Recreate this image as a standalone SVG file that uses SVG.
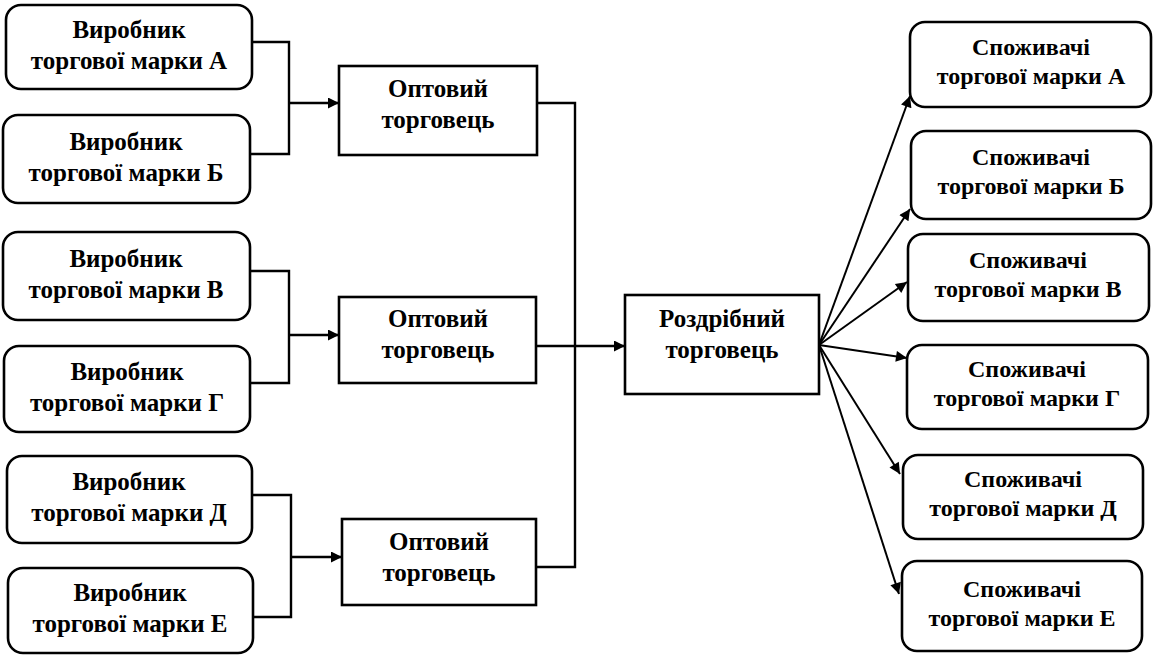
<svg xmlns="http://www.w3.org/2000/svg" width="1155" height="657" viewBox="0 0 1155 657">
<style>
.box{fill:#fff;stroke:#000;stroke-width:2.6}
.t{font-family:"Liberation Serif","Times New Roman",serif;font-weight:bold;font-size:25px;fill:#000;text-anchor:middle}
.r{font-size:24px}
.c{fill:none;stroke:#000;stroke-width:2.4}
.a{fill:none;stroke:#000;stroke-width:2;marker-end:url(#ah)}
.ah{fill:none;stroke:#000;stroke-width:2.4;marker-end:url(#ah)}
</style>
<defs>
<marker id="ah" viewBox="0 0 10 10" refX="10" refY="5" markerWidth="15" markerHeight="11" markerUnits="userSpaceOnUse" orient="auto">
<path d="M0,0 L10,5 L0,10 z" fill="#000"/>
</marker>
</defs>
<rect width="1155" height="657" fill="#fff"/>
<g id="connectors">
<polyline class="c" points="252,42 289,42 289,154 250,154"/>
<line class="ah" x1="289" y1="103" x2="339" y2="103"/>
<polyline class="c" points="250,271 289,271 289,383 250,383"/>
<line class="ah" x1="289" y1="335" x2="339" y2="335"/>
<polyline class="c" points="252,495 291,495 291,617 253,617"/>
<line class="ah" x1="291" y1="557" x2="342" y2="557"/>
<polyline class="c" points="537,103 575,103 575,567 536,567"/>
<line class="ah" x1="536" y1="346" x2="625" y2="346"/>
<line class="a" x1="819" y1="345" x2="910" y2="96"/>
<line class="a" x1="819" y1="345" x2="910" y2="209"/>
<line class="a" x1="819" y1="345" x2="907" y2="282"/>
<line class="a" x1="819" y1="345" x2="907" y2="358"/>
<line class="a" x1="819" y1="345" x2="900" y2="474"/>
<line class="a" x1="819" y1="345" x2="899" y2="594"/>
</g>
<g id="p-a"><rect class="box" x="6" y="5" width="246" height="84" rx="15"/><text class="t" x="129" y="38">Виробник</text><text class="t" x="129" y="69">торгової марки А</text></g>
<g id="p-b"><rect class="box" x="3" y="115" width="247" height="88" rx="15"/><text class="t" x="126" y="150">Виробник</text><text class="t" x="126" y="181">торгової марки Б</text></g>
<g id="p-v"><rect class="box" x="3" y="232" width="247" height="88" rx="15"/><text class="t" x="126" y="267">Виробник</text><text class="t" x="126" y="298">торгової марки В</text></g>
<g id="p-g"><rect class="box" x="4" y="346" width="246" height="86" rx="15"/><text class="t" x="127" y="380">Виробник</text><text class="t" x="127" y="411">торгової марки Г</text></g>
<g id="p-d"><rect class="box" x="7" y="456" width="245" height="87" rx="15"/><text class="t" x="129" y="490">Виробник</text><text class="t" x="129" y="521">торгової марки Д</text></g>
<g id="p-e"><rect class="box" x="8" y="568" width="245" height="85" rx="15"/><text class="t" x="130" y="601">Виробник</text><text class="t" x="130" y="632">торгової марки Е</text></g>
<g id="w1"><rect class="box" x="339" y="66" width="198" height="89"/><text class="t" x="438" y="97">Оптовий</text><text class="t" x="438" y="128">торговець</text></g>
<g id="w2"><rect class="box" x="339" y="297" width="197" height="86"/><text class="t" x="438" y="327">Оптовий</text><text class="t" x="438" y="358">торговець</text></g>
<g id="w3"><rect class="box" x="342" y="519" width="194" height="86"/><text class="t" x="439" y="550">Оптовий</text><text class="t" x="439" y="581">торговець</text></g>
<g id="retail"><rect class="box" x="625" y="295" width="194" height="99"/><text class="t" x="722" y="327">Роздрібний</text><text class="t" x="722" y="358">торговець</text></g>
<g id="c-a"><rect class="box" x="910" y="22" width="241" height="85" rx="15"/><text class="t r" x="1031" y="55">Споживачі</text><text class="t r" x="1031" y="84">торгової марки А</text></g>
<g id="c-b"><rect class="box" x="911" y="131" width="240" height="88" rx="15"/><text class="t r" x="1031" y="165">Споживачі</text><text class="t r" x="1031" y="194">торгової марки Б</text></g>
<g id="c-v"><rect class="box" x="908" y="234" width="241" height="87" rx="15"/><text class="t r" x="1028" y="268">Споживачі</text><text class="t r" x="1028" y="297">торгової марки В</text></g>
<g id="c-g"><rect class="box" x="907" y="345" width="241" height="84" rx="15"/><text class="t r" x="1027" y="377">Споживачі</text><text class="t r" x="1027" y="406">торгової марки Г</text></g>
<g id="c-d"><rect class="box" x="903" y="455" width="240" height="84" rx="15"/><text class="t r" x="1023" y="487">Споживачі</text><text class="t r" x="1023" y="516">торгової марки Д</text></g>
<g id="c-e"><rect class="box" x="902" y="561" width="240" height="90" rx="15"/><text class="t r" x="1022" y="597">Споживачі</text><text class="t r" x="1022" y="626">торгової марки Е</text></g>
</svg>
